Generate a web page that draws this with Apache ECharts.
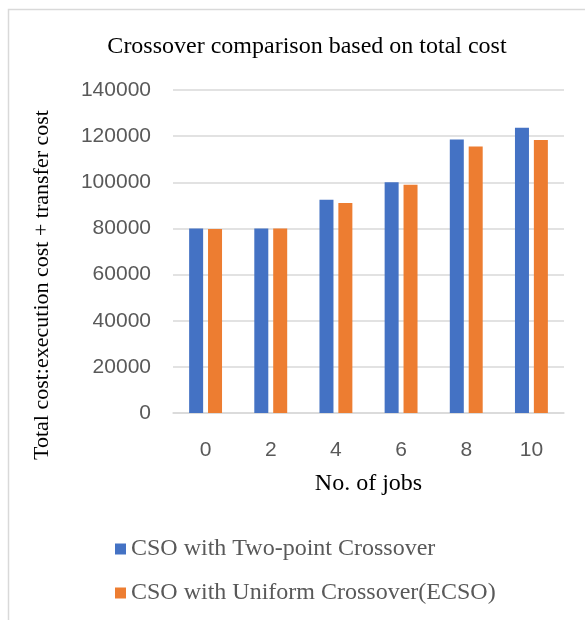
<!DOCTYPE html>
<html>
<head>
<meta charset="utf-8">
<script src="https://cdn.jsdelivr.net/npm/echarts@6/dist/echarts.min.js"></script>
<style>
  html, body { margin: 0; padding: 0; background: #fff; }
  #chart { width: 585px; height: 620px; }
</style>
</head>
<body>
<div id="chart"></div>
<script>
// values
const jobs = ["0", "2", "4", "6", "8", "10"];
const twoPoint = [80000, 80000, 92400, 100000, 118500, 123600];
const uniform = [79800, 80000, 91000, 98900, 115500, 118300];
const seriesNames = ["CSO with Two-point Crossover", "CSO with Uniform Crossover(ECSO)"];

const serif = "'Liberation Serif', 'Times New Roman', serif";
const sans = "'Liberation Sans', Arial, sans-serif";

const chart = echarts.init(document.getElementById("chart"));

chart.setOption({
    animation: false,
    backgroundColor: "#fff",
    title: {
        text: "Crossover comparison based on total cost",
        left: 302,
        top: 30,
        textAlign: "center",
        textStyle: { fontFamily: serif, fontSize: 24, fontWeight: "normal", color: "#000" },
    },
    legend: {
        data: seriesNames,
        orient: "vertical",
        left: 110,
        top: 532,
        icon: "rect",
        itemWidth: 11,
        itemHeight: 11,
        itemGap: 20,
        textStyle: { fontFamily: serif, fontSize: 24, color: "#595959", lineHeight: 24 },
    },
    grid: { left: 173, right: 21, top: 90, bottom: 207 },
    xAxis: {
        type: "category",
        data: jobs,
        name: "No. of jobs",
        nameLocation: "middle",
        nameGap: 59,
        nameTextStyle: { fontFamily: serif, fontSize: 24, color: "#000" },
        axisTick: { show: false },
        axisLine: { lineStyle: { color: "#d9d9d9", width: 1.5 } },
        axisLabel: { fontFamily: sans, fontSize: 21, color: "#595959", margin: 27 },
    },
    yAxis: {
        type: "value",
        min: 0,
        max: 140000,
        interval: 20000,
        axisLine: { show: false },
        axisTick: { show: false },
        splitLine: { lineStyle: { color: "#d9d9d9", width: 1.5 } },
        axisLabel: {
            fontFamily: sans, fontSize: 21, color: "#595959", margin: 22,
            formatter: (v) => String(v),
        },
    },
    series: [
        {
            name: seriesNames[0],
            type: "bar",
            data: twoPoint,
            barWidth: 14,
            barGap: "35%",
            itemStyle: { color: "#4472C4" },
        },
        {
            name: seriesNames[1],
            type: "bar",
            data: uniform,
            barWidth: 14,
            itemStyle: { color: "#ED7D31" },
        },
    ],
    graphic: [
        {
            // chart area frame
            type: "rect",
            shape: { x: 8.5, y: 9.5, width: 700, height: 700 },
            style: { fill: "none", stroke: "#d9d9d9", lineWidth: 1.5 },
            silent: true,
        },
        {
            type: "text",
            x: 42,
            y: 285,
            rotation: Math.PI / 2,
            style: {
                text: "Total cost:execution cost + transfer cost",
                font: "22px " + serif,
                fill: "#000",
                align: "center",
                verticalAlign: "middle",
            },
        },
    ],
});
</script>
</body>
</html>
